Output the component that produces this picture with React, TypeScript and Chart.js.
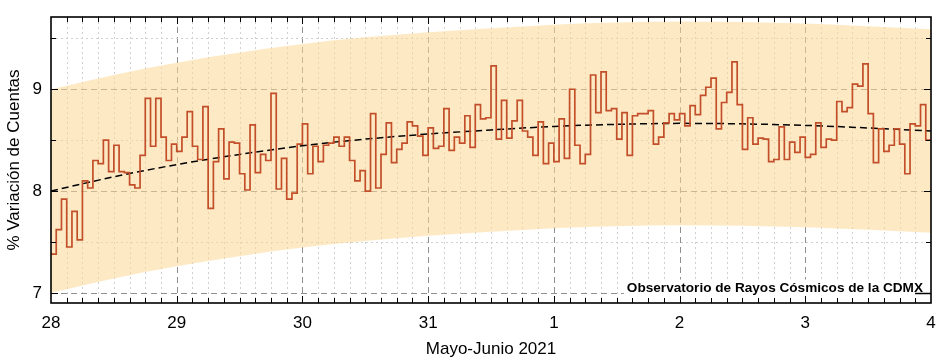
import React, { useEffect, useRef } from 'react';
import { Chart, registerables } from 'chart.js';

Chart.register(...registerables);

// Day tick labels (days since 28 May 2021)
const dayLabels = ['28', '29', '30', '31', '1', '2', '3', '4'];
const yTickValues = [7, 8, 9];

// Hourly % variation of counts, one array per day
const may28 = [7.38, 7.62, 7.92, 7.45, 7.80, 7.52, 8.10, 8.03, 8.30, 8.27, 8.50, 8.19, 8.45, 8.19, 8.18, 8.06, 8.03, 8.35, 8.91, 8.44, 8.91, 8.53, 8.30, 8.46];
const may29 = [8.39, 8.53, 8.78, 8.44, 8.31, 8.83, 7.83, 8.29, 8.61, 8.12, 8.48, 8.47, 8.17, 8.01, 8.65, 8.18, 8.36, 8.30, 8.96, 8.02, 8.32, 7.92, 7.98, 8.46];
const may30 = [8.66, 8.17, 8.44, 8.29, 8.45, 8.47, 8.53, 8.44, 8.53, 8.30, 8.10, 8.20, 8.00, 8.76, 8.03, 8.36, 8.67, 8.28, 8.41, 8.47, 8.68, 8.64, 8.54, 8.35];
const may31 = [8.62, 8.42, 8.44, 8.81, 8.40, 8.53, 8.47, 8.74, 8.43, 8.85, 8.71, 8.72, 9.23, 8.51, 8.89, 8.52, 8.69, 8.89, 8.59, 8.53, 8.35, 8.68, 8.27, 8.47];
const jun1 = [8.29, 8.71, 8.32, 9.00, 8.45, 8.27, 8.36, 9.14, 8.77, 9.17, 8.79, 8.81, 8.51, 8.77, 8.35, 8.74, 8.76, 8.76, 8.79, 8.46, 8.53, 8.67, 8.76, 8.70];
const jun2 = [8.76, 8.64, 8.84, 8.75, 8.94, 9.02, 9.11, 8.61, 8.87, 8.97, 9.27, 8.85, 8.41, 8.72, 8.46, 8.52, 8.51, 8.29, 8.31, 8.63, 8.31, 8.48, 8.38, 8.53];
const jun3 = [8.33, 8.36, 8.67, 8.43, 8.51, 8.50, 8.88, 8.78, 8.82, 9.05, 9.03, 9.25, 8.76, 8.28, 8.61, 8.39, 8.45, 8.61, 8.46, 8.17, 8.66, 8.64, 8.85, 8.50];

// Trend (dashed) and band, sampled every half day
const trendDays = [0, 0.5, 1, 1.5, 2, 2.5, 3, 3.5, 4, 4.5, 5, 5.5, 6, 6.5, 7];
const trendValues = [8.00, 8.14, 8.26, 8.36, 8.445, 8.51, 8.56, 8.60, 8.635, 8.655, 8.665, 8.66, 8.645, 8.62, 8.59];
const bandUpper = [9.00, 9.14, 9.26, 9.36, 9.445, 9.51, 9.56, 9.60, 9.635, 9.655, 9.665, 9.66, 9.645, 9.62, 9.59];
const bandLower = [7.00, 7.14, 7.26, 7.36, 7.445, 7.51, 7.56, 7.60, 7.635, 7.655, 7.665, 7.66, 7.645, 7.62, 7.59];

const xTitle = 'Mayo-Junio 2021';
const yTitle = '% Variación de Cuentas';
const credit = 'Observatorio de Rayos Cósmicos de la CDMX';

const FONT = '"Liberation Sans", Arial, sans-serif';

const framePlugin = {
  id: 'frameAndGrid',
  beforeDatasetsDraw(chart: any) {
    const { ctx, chartArea, scales } = chart;
    const { left, right, top, bottom } = chartArea;
    const xs = scales.x;
    const ys = scales.y;
    ctx.save();
    ctx.lineWidth = 1;
    // vertical grid: every 3 hours
    for (let k = 1; k < 56; k++) {
      const px = Math.round(xs.getPixelForValue(k / 8)) + 0.5;
      const major = k % 8 === 0;
      ctx.strokeStyle = major ? '#8f8f8f' : '#d0d0d0';
      ctx.setLineDash(major ? [6, 4] : [2, 3]);
      ctx.beginPath();
      ctx.moveTo(px, top);
      ctx.lineTo(px, bottom);
      ctx.stroke();
    }
    // horizontal grid: every 0.5
    for (let v = Math.ceil(ys.min * 2) / 2; v <= ys.max; v += 0.5) {
      const py = Math.round(ys.getPixelForValue(v)) + 0.5;
      const major = Math.abs(v - Math.round(v)) < 1e-6;
      ctx.strokeStyle = major ? '#8f8f8f' : '#d0d0d0';
      ctx.setLineDash(major ? [6, 4] : [2, 3]);
      ctx.beginPath();
      ctx.moveTo(left, py);
      ctx.lineTo(right, py);
      ctx.stroke();
    }
    ctx.restore();
  },
  afterDraw(chart: any) {
    const { ctx, chartArea, scales } = chart;
    const { left, right, top, bottom } = chartArea;
    const xs = scales.x;
    const ys = scales.y;
    ctx.save();
    // credit box
    ctx.font = `bold 13.6px ${FONT}`;
    const tw = ctx.measureText(credit).width;
    const tx = right - 8 - tw;
    const y7 = Math.round(ys.getPixelForValue(7)) + 0.5;
    ctx.fillStyle = '#ffffff';
    ctx.fillRect(tx - 3, y7 - 14, right - tx + 3, bottom - y7 + 13);
    ctx.fillStyle = '#000000';
    ctx.textBaseline = 'alphabetic';
    ctx.fillText(credit, tx, y7 - 2);
    ctx.strokeStyle = '#000';
    ctx.lineWidth = 1.5;
    ctx.setLineDash([]);
    ctx.beginPath();
    ctx.moveTo(right - 16, y7);
    ctx.lineTo(right, y7);
    ctx.stroke();
    // tick marks (inward)
    ctx.lineWidth = 1;
    for (let k = 1; k < 56; k++) {
      const px = Math.round(xs.getPixelForValue(k / 8)) + 0.5;
      const len = k % 8 === 0 ? 7 : 5;
      ctx.beginPath();
      ctx.moveTo(px, bottom);
      ctx.lineTo(px, bottom - len);
      ctx.moveTo(px, top);
      ctx.lineTo(px, top + len);
      ctx.stroke();
    }
    for (let v = Math.ceil(ys.min * 2) / 2; v <= ys.max; v += 0.5) {
      const py = Math.round(ys.getPixelForValue(v)) + 0.5;
      const major = Math.abs(v - Math.round(v)) < 1e-6;
      const len = major ? 7 : 5;
      ctx.beginPath();
      ctx.moveTo(left, py);
      ctx.lineTo(left + len, py);
      ctx.moveTo(right, py);
      ctx.lineTo(right - len, py);
      ctx.stroke();
    }
    // frame
    ctx.lineWidth = 1.6;
    ctx.strokeRect(left, top, right - left, bottom - top);
    ctx.restore();
  },
};

export default function App() {
  const ref = useRef<HTMLCanvasElement>(null);
  useEffect(() => {
    document.body.style.margin = '0';
    const hourly = [...may28, ...may29, ...may30, ...may31, ...jun1, ...jun2, ...jun3];
    const stepPts = hourly.map((v, i) => ({ x: i / 24, y: v }));
    stepPts.push({ x: hourly.length / 24, y: hourly[hourly.length - 1] });
    const trendPts = trendDays.map((d, i) => ({ x: d, y: trendValues[i] }));
    const upperPts = trendDays.map((d, i) => ({ x: d, y: bandUpper[i] }));
    const lowerPts = trendDays.map((d, i) => ({ x: d, y: bandLower[i] }));

    const chart = new Chart(ref.current as HTMLCanvasElement, {
      type: 'line',
      data: {
        datasets: [
          {
            data: stepPts,
            stepped: 'before',
            borderColor: '#c24f2a',
            borderWidth: 1.7,
            pointRadius: 0,
            fill: false,
            order: 0,
          },
          {
            data: trendPts,
            borderColor: '#000000',
            borderWidth: 1.5,
            borderDash: [7, 4],
            pointRadius: 0,
            cubicInterpolationMode: 'monotone',
            fill: false,
            order: 1,
          },
          {
            data: upperPts,
            borderColor: 'rgba(0,0,0,0)',
            borderWidth: 0,
            pointRadius: 0,
            cubicInterpolationMode: 'monotone',
            fill: '+1',
            backgroundColor: 'rgba(251,217,150,0.55)',
            order: 2,
          },
          {
            data: lowerPts,
            borderColor: 'rgba(0,0,0,0)',
            borderWidth: 0,
            pointRadius: 0,
            cubicInterpolationMode: 'monotone',
            fill: false,
            order: 3,
          },
        ],
      } as any,
      options: {
        animation: false,
        responsive: false,
        devicePixelRatio: 1,
        layout: { padding: { top: 17, right: 8, left: 0, bottom: 0 } },
        plugins: { legend: { display: false }, tooltip: { enabled: false } },
        scales: {
          x: {
            type: 'linear',
            min: 0,
            max: 7,
            afterBuildTicks: (s: any) => {
              s.ticks = dayLabels.map((_, i) => ({ value: i }));
            },
            afterFit: (s: any) => {
              s.height = 60;
              s.paddingLeft = 0;
              s.paddingRight = 0;
            },
            ticks: {
              autoSkip: false,
              maxRotation: 0,
              padding: 10,
              color: '#000',
              font: { family: FONT, size: 17 },
              callback: (_v: any, i: number) => dayLabels[i],
            },
            grid: { display: false, drawTicks: false },
            border: { display: false },
            title: {
              display: true,
              text: xTitle,
              color: '#000',
              font: { family: FONT, size: 17 },
              padding: { top: 0, bottom: 3 },
            },
          },
          y: {
            type: 'linear',
            min: 6.9,
            max: 9.71,
            afterBuildTicks: (s: any) => {
              s.ticks = yTickValues.map((v) => ({ value: v }));
            },
            afterFit: (s: any) => {
              s.width = 51;
              s.paddingTop = 0;
              s.paddingBottom = 0;
            },
            ticks: {
              padding: 9,
              color: '#000',
              font: { family: FONT, size: 17 },
              callback: (v: any) => String(v),
            },
            grid: { display: false, drawTicks: false },
            border: { display: false },
            title: {
              display: true,
              text: yTitle,
              color: '#000',
              font: { family: FONT, size: 17 },
              padding: { top: 4, bottom: 0 },
            },
          },
        },
      } as any,
      plugins: [framePlugin],
    });
    return () => chart.destroy();
  }, []);
  return <canvas ref={ref} width={939} height={363} style={{ display: 'block' }} />;
}
